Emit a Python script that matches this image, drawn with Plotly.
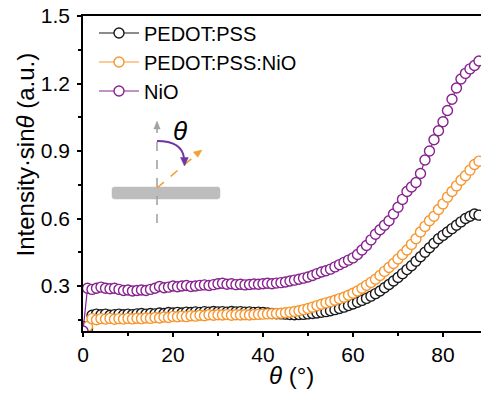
import plotly.graph_objects as go

theta = list(range(0, 89))

pedot_pss = [0.12, 0.11, 0.17, 0.175, 0.172, 0.175, 0.17, 0.173, 0.175, 0.172,
             0.175, 0.173, 0.176, 0.178, 0.175, 0.178, 0.176, 0.18, 0.178, 0.182,
             0.18, 0.183, 0.18, 0.184, 0.182, 0.185, 0.183, 0.186, 0.184, 0.187,
             0.185, 0.186, 0.184, 0.187, 0.185, 0.186, 0.184, 0.185, 0.183, 0.184,
             0.182, 0.18, 0.178, 0.177, 0.176, 0.175, 0.173, 0.172, 0.173, 0.174,
             0.176, 0.178, 0.18, 0.183, 0.186, 0.19, 0.195, 0.2, 0.206, 0.213,
             0.22, 0.228, 0.236, 0.245, 0.255, 0.266, 0.278, 0.292, 0.307, 0.322,
             0.338, 0.355, 0.373, 0.39, 0.41, 0.43, 0.45, 0.47, 0.49, 0.51,
             0.525, 0.54, 0.555, 0.57, 0.585, 0.6, 0.61, 0.62, 0.615]

pedot_pss_nio = [0.11, 0.12, 0.155, 0.15, 0.155, 0.153, 0.156, 0.152, 0.155, 0.153,
                 0.156, 0.154, 0.157, 0.155, 0.158, 0.156, 0.16, 0.158, 0.162, 0.16,
                 0.165, 0.163, 0.166, 0.164, 0.168, 0.166, 0.17, 0.168, 0.172, 0.17,
                 0.172, 0.171, 0.173, 0.17, 0.172, 0.171, 0.172, 0.171, 0.173, 0.174,
                 0.175, 0.176, 0.177, 0.178, 0.179, 0.181, 0.184, 0.187, 0.19, 0.195,
                 0.2, 0.206, 0.213, 0.219, 0.225, 0.23, 0.237, 0.244, 0.25, 0.259,
                 0.268, 0.278, 0.29, 0.303, 0.316, 0.33, 0.347, 0.365, 0.382, 0.4,
                 0.42, 0.44, 0.46, 0.485, 0.51, 0.54, 0.565, 0.59, 0.61, 0.64,
                 0.665, 0.695, 0.72, 0.745, 0.77, 0.79, 0.815, 0.84, 0.855]

nio = [0.1, 0.29, 0.285, 0.29, 0.295, 0.29, 0.288, 0.29, 0.285, 0.28,
       0.282, 0.278, 0.28, 0.282, 0.28, 0.285, 0.29, 0.298, 0.292, 0.295,
       0.3, 0.297, 0.3, 0.302, 0.298, 0.3, 0.303, 0.305, 0.302, 0.306,
       0.31, 0.312, 0.308, 0.31, 0.306, 0.308, 0.305, 0.307, 0.309, 0.308,
       0.31, 0.312, 0.31, 0.313, 0.315, 0.318, 0.322, 0.326, 0.33, 0.335,
       0.34, 0.347, 0.355, 0.362, 0.368, 0.375, 0.385, 0.395, 0.405, 0.415,
       0.425, 0.44, 0.46, 0.48, 0.505, 0.53, 0.55, 0.57, 0.59, 0.62,
       0.65, 0.685, 0.72, 0.74, 0.76, 0.8, 0.86, 0.9, 0.95, 0.99,
       1.03, 1.08, 1.13, 1.18, 1.22, 1.245, 1.265, 1.28, 1.3]

series_names = ["PEDOT:PSS", "PEDOT:PSS:NiO", "NiO"]
series_values = [pedot_pss, pedot_pss_nio, nio]
series_colors = ["#1a1a1a", "#F7962F", "#87228F"]

x_ticks = [0, 20, 40, 60, 80]
y_ticks = [0.3, 0.6, 0.9, 1.2, 1.5]
y_tick_labels = ["0.3", "0.6", "0.9", "1.2", "1.5"]

x_title = "<i>θ</i> (°)"
y_title = "Intensity·sin<i>θ</i> (a.u.)"

FONT = "Arial, Liberation Sans, sans-serif"

fig = go.Figure()
for name, vals, col in zip(series_names, series_values, series_colors):
    fig.add_trace(go.Scatter(
        x=theta, y=vals, name=name, mode="lines+markers",
        line=dict(color=col, width=1.2),
        marker=dict(symbol="circle", size=10, color="white", line=dict(width=1.4, color=col)),
    ))

# pixel -> data helper for inset decoration
L, B, T = 83, 331, 16
W_PLOT, H_PLOT = 481 - L, B - T
def P(px, py):
    return (px - L) / 4.5, 0.1 + (B - py) / 225.0

def path(cmds):
    s = ""
    for c, pts in cmds:
        s += c + " " + " ".join("%.4f,%.4f" % P(*p) for p in pts) + " "
    return s

shapes = []
x0, x1, y0, y1, r = 112, 220, 187, 199, 2.5
shapes.append(dict(type="path", xref="x", yref="y",
    path=path([("M", [(x0 + r, y0)]), ("L", [(x1 - r, y0)]), ("Q", [(x1, y0), (x1, y0 + r)]),
               ("L", [(x1, y1 - r)]), ("Q", [(x1, y1), (x1 - r, y1)]), ("L", [(x0 + r, y1)]),
               ("Q", [(x0, y1), (x0, y1 - r)]), ("L", [(x0, y0 + r)]), ("Q", [(x0, y0), (x0 + r, y0)])]) + "Z",
    fillcolor="#bdbdbd", line=dict(color="#bdbdbd", width=0.5)))
shapes.append(dict(type="path", xref="x", yref="y", path=path([("M", [(157, 223)]), ("L", [(157, 128)])]),
    line=dict(color="#a3a3a3", width=1.6, dash="dash")))
shapes.append(dict(type="path", xref="x", yref="y",
    path=path([("M", [(157, 121)]), ("L", [(153.8, 129)]), ("L", [(160.2, 129)])]) + "Z",
    fillcolor="#a3a3a3", line=dict(color="#a3a3a3", width=0.5)))
shapes.append(dict(type="path", xref="x", yref="y", path=path([("M", [(157, 188)]), ("L", [(197, 154)])]),
    line=dict(color="#F2A033", width=1.6, dash="dash")))
shapes.append(dict(type="path", xref="x", yref="y",
    path=path([("M", [(202, 150)]), ("L", [(197.8, 157.3)]), ("L", [(193.3, 152.0)])]) + "Z",
    fillcolor="#F2A033", line=dict(color="#F2A033", width=0.5)))
shapes.append(dict(type="path", xref="x", yref="y",
    path=path([("M", [(157, 141)]), ("Q", [(182, 141), (184, 158)])]),
    line=dict(color="#6E35A5", width=1.8)))
shapes.append(dict(type="path", xref="x", yref="y",
    path=path([("M", [(184.5, 166)]), ("L", [(180.5, 157.5)]), ("L", [(188.3, 157.5)])]) + "Z",
    fillcolor="#6E35A5", line=dict(color="#6E35A5", width=0.5)))

tx, ty = P(180, 131)
annotations = [
    dict(x=tx, y=ty, xref="x", yref="y", text="<i>θ</i>", showarrow=False,
         font=dict(family=FONT, size=26, color="#000")),
    dict(x=(291 - L) / W_PLOT, y=(B - 375) / H_PLOT, xref="paper", yref="paper",
         xanchor="center", yanchor="middle", text=x_title, showarrow=False,
         font=dict(family=FONT, size=24, color="#000")),
    dict(x=(24.5 - L) / W_PLOT, y=(B - 155) / H_PLOT, xref="paper", yref="paper",
         xanchor="center", yanchor="middle", text=y_title, textangle=-90, showarrow=False,
         font=dict(family=FONT, size=24, color="#000")),
]

fig.update_layout(
    width=481, height=394,
    margin=dict(l=L, r=0, t=T, b=394 - B),
    paper_bgcolor="white", plot_bgcolor="white",
    font=dict(family=FONT, size=21, color="#000"),
    showlegend=True,
    legend=dict(x=(94 - L) / W_PLOT, y=1.008, xanchor="left", yanchor="top", bgcolor="rgba(0,0,0,0)",
                font=dict(family=FONT, size=20, color="#000"), itemwidth=40),
    shapes=shapes, annotations=annotations,
    xaxis=dict(range=[0, 88.45], tickmode="array", tickvals=x_ticks,
               showline=True, linecolor="#000", linewidth=1.5, mirror=True,
               ticks="outside", ticklen=4, tickwidth=1.5, tickcolor="#000",
               minor=dict(dtick=10, ticks="outside", ticklen=3, tickwidth=1.5, tickcolor="#000"),
               showgrid=False, zeroline=False,
               tickfont=dict(family=FONT, size=21)),
    yaxis=dict(range=[0.1, 1.5], tickmode="array", tickvals=y_ticks, ticktext=y_tick_labels,
               showline=True, linecolor="#000", linewidth=1.5, mirror=False,
               ticks="outside", ticklen=4, tickwidth=1.5, tickcolor="#000",
               ticklabelstandoff=3,
               minor=dict(tickvals=[0.15, 0.45, 0.75, 1.05, 1.35], ticks="outside", ticklen=3,
                          tickwidth=1.5, tickcolor="#000"),
               showgrid=False, zeroline=False,
               tickfont=dict(family=FONT, size=21)),
)

fig.write_html("out.html")
